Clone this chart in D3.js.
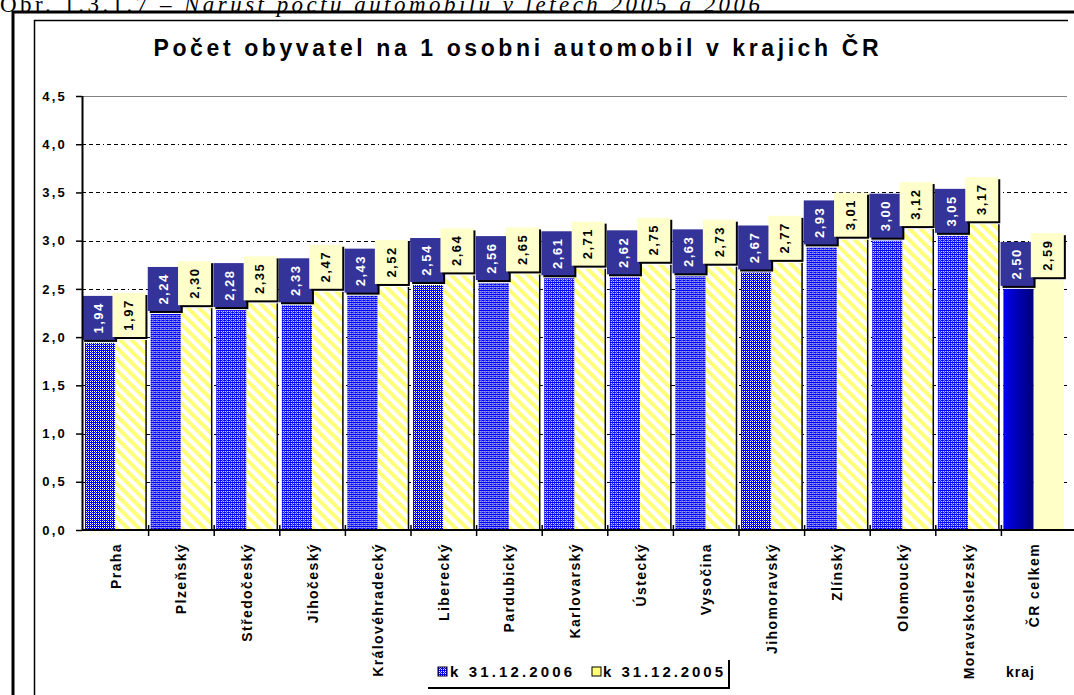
<!DOCTYPE html>
<html>
<head>
<meta charset="utf-8">
<script src="https://cdn.jsdelivr.net/npm/d3@7"></script>
<style>
  body { margin: 0; background: #fff; }
  svg { display: block; }
</style>
</head>
<body>
<svg id="graf" width="1074" height="695"></svg>
<script>
// ---- data ----
const kraje = ["Praha", "Plzeňský", "Středočeský", "Jihočeský", "Královéhradecký", "Liberecký",
  "Pardubický", "Karlovarský", "Ústecký", "Vysočina", "Jihomoravský", "Zlínský", "Olomoucký",
  "Moravskoslezský", "ČR celkem"];
const rok2006 = [1.94, 2.24, 2.28, 2.33, 2.43, 2.54, 2.56, 2.61, 2.62, 2.63, 2.67, 2.93, 3.00, 3.05, 2.50];
const rok2005 = [1.97, 2.30, 2.35, 2.47, 2.52, 2.64, 2.65, 2.71, 2.75, 2.73, 2.77, 3.01, 3.12, 3.17, 2.59];
const serie = ["k 31.12.2006", "k 31.12.2005"];
const yTicks = [0, 0.5, 1, 1.5, 2, 2.5, 3, 3.5, 4, 4.5];

const svg = d3.select("#graf");
const fnt = "'Liberation Sans', Arial, sans-serif";
const carka = f => v => d3.format(f)(v).replace(".", ",");

// ---- patterns ----
const defs = svg.append("defs");
const pb = defs.append("pattern").attr("id", "vzorModra")
  .attr("patternUnits", "userSpaceOnUse").attr("width", 4).attr("height", 4);
pb.append("rect").attr("width", 4).attr("height", 4).attr("fill", "#0000ff");
[[0, 0], [2, 2], [2, 0], [0, 2]].forEach(p => {
  pb.append("rect").attr("x", p[0] + 1).attr("y", p[1] + 1).attr("width", 1).attr("height", 1).attr("fill", "#fff");
});
pb.append("rect").attr("x", 0).attr("y", 0).attr("width", 1).attr("height", 1).attr("fill", "#9090ff");

const py = defs.append("pattern").attr("id", "vzorZluta")
  .attr("patternUnits", "userSpaceOnUse").attr("width", 8).attr("height", 8)
  .attr("patternTransform", "rotate(-45)");
py.append("rect").attr("width", 8).attr("height", 8).attr("fill", "#fff");
py.append("rect").attr("width", 4).attr("height", 8).attr("fill", "#ffff78");

const gr = defs.append("linearGradient").attr("id", "gradModra");
gr.append("stop").attr("offset", "0%").attr("stop-color", "#0000ee");
gr.append("stop").attr("offset", "100%").attr("stop-color", "#000078");

// ---- caption + frames ----
const titulek = svg.append("text").attr("x", 0).attr("y", 12)
  .attr("font-family", "'Liberation Serif', 'Times New Roman', serif").attr("font-size", 23)
  .attr("textLength", 760);
titulek.append("tspan").text("Obr. 1.3.1.7 – ");
titulek.append("tspan").attr("font-style", "italic").text("Nárůst počtu automobilů v letech 2005 a 2006");

svg.append("path").attr("d", "M13,695 V12 H1074").attr("fill", "none").attr("stroke", "#000").attr("stroke-width", 3);
svg.append("path").attr("d", "M34.5,695 V20.5 H1068").attr("fill", "none").attr("stroke", "#000").attr("stroke-width", 1.5);

svg.append("text").attr("x", 516).attr("y", 56).attr("text-anchor", "middle")
  .attr("font-family", fnt).attr("font-size", 23).attr("font-weight", "bold")
  .attr("textLength", 725)
  .text("Počet obyvatel na 1 osobni automobil v krajich ČR");

// ---- scales ----
const x0 = d3.scaleBand().domain(kraje).range([83, 1067]).padding(0);
const x1 = d3.scaleBand().domain(serie).range([2, x0.bandwidth() - 3]).padding(0);
const y = d3.scaleLinear().domain([0, 4.5]).range([530, 96]);

// gridlines
svg.append("g").selectAll("line").data(yTicks.filter(t => t > 0)).join("line")
  .attr("x1", 82).attr("x2", 1067)
  .attr("y1", d => Math.round(y(d)) + 0.5).attr("y2", d => Math.round(y(d)) + 0.5)
  .attr("stroke", d => d === 4.5 ? "#808080" : "#000")
  .attr("stroke-width", 1)
  .attr("stroke-dasharray", d => d === 4.5 ? null : "4,3,4,3,4,3,1,3");

// ---- bars ----
const data = kraje.map((k, i) => ({ kraj: k, hodnoty: [rok2006[i], rok2005[i]] }));
const skupiny = svg.append("g").selectAll("g").data(data).join("g")
  .attr("transform", d => "translate(" + x0(d.kraj) + ",0)");

skupiny.selectAll("rect.sloup").data((d, i) => d.hodnoty.map((v, j) => ({ v, s: serie[j], j, posl: i === kraje.length - 1 })))
  .join("rect").attr("class", "sloup")
  .attr("x", d => x1(d.s)).attr("width", x1.bandwidth())
  .attr("y", d => y(d.v)).attr("height", d => y(0) - y(d.v))
  .attr("fill", d => d.posl ? (d.j === 0 ? "url(#gradModra)" : "#ffffc8") : (d.j === 0 ? "url(#vzorModra)" : "url(#vzorZluta)"));

// dark right edges of yellow bars
skupiny.filter((d, i) => i < kraje.length - 1).append("line")
  .attr("x1", x1(serie[1]) + x1.bandwidth() + 0.5).attr("x2", x1(serie[1]) + x1.bandwidth() + 0.5)
  .attr("y1", d => y(d.hodnoty[1])).attr("y2", y(0))
  .attr("stroke", "#000").attr("stroke-width", 1.5);

// ---- axes ----
svg.append("line").attr("x1", 82.5).attr("x2", 82.5).attr("y1", 96).attr("y2", 531)
  .attr("stroke", "#000").attr("stroke-width", 2);
svg.append("line").attr("x1", 82).attr("x2", 1074).attr("y1", 530).attr("y2", 530)
  .attr("stroke", "#000").attr("stroke-width", 2);

const osaY = svg.append("g").attr("transform", "translate(82,0)")
  .call(d3.axisLeft(y).tickValues(yTicks).tickSize(6).tickSizeOuter(0).tickPadding(9).tickFormat(carka(".1f")));
osaY.select(".domain").remove();
osaY.selectAll("line").attr("stroke", "#000").attr("stroke-width", 1.5);
osaY.selectAll("text").attr("font-family", fnt).attr("font-size", 13).attr("font-weight", "bold")
  .attr("letter-spacing", 2.2).attr("fill", "#000");

// category ticks at band boundaries
svg.append("g").selectAll("line").data(kraje.slice(1)).join("line")
  .attr("x1", d => x0(d)).attr("x2", d => x0(d)).attr("y1", 525).attr("y2", 536)
  .attr("stroke", "#000").attr("stroke-width", 1.5);

svg.append("g").selectAll("text").data(kraje).join("text")
  .attr("transform", d => "translate(" + (x0(d) + x0.bandwidth() / 2 + 5) + ",543) rotate(-90)")
  .attr("text-anchor", "end")
  .attr("font-family", fnt).attr("font-size", 14).attr("font-weight", "bold").attr("letter-spacing", 1.4)
  .text(d => d);

// ---- data labels ----
const stitky = skupiny.selectAll("g.stitek").data(d => d.hodnoty.map((v, j) => ({ v, s: serie[j], j })))
  .join("g").attr("class", "stitek")
  .attr("transform", d => "translate(" + (x1(d.s) + x1.bandwidth() / 2 - 2) + "," + (y(d.v) - 25) + ")");
stitky.append("rect").attr("x", -14).attr("y", -20).attr("width", 33).attr("height", 44).attr("fill", "#000");
stitky.append("rect").attr("x", -16).attr("y", -22).attr("width", 33).attr("height", 44)
  .attr("fill", d => d.j === 0 ? "#333399" : "#ffffcc");
stitky.append("text").attr("transform", "rotate(-90)").attr("text-anchor", "middle").attr("dy", "0.36em")
  .attr("font-family", fnt).attr("font-size", 13).attr("font-weight", "bold").attr("letter-spacing", 1.5)
  .attr("fill", d => d.j === 0 ? "#fff" : "#000")
  .text(d => carka(".2f")(d.v));

// ---- legend ----
const leg = svg.append("g");
leg.append("path").attr("d", "M428,688 H729 V660").attr("fill", "none").attr("stroke", "#000").attr("stroke-width", 2);
leg.append("rect").attr("x", 438).attr("y", 667).attr("width", 9).attr("height", 9).attr("fill", "url(#vzorModra)").attr("stroke", "#000");
leg.append("rect").attr("x", 592).attr("y", 667).attr("width", 9).attr("height", 9).attr("fill", "#ffff78").attr("stroke", "#000");
leg.append("text").attr("x", 450).attr("y", 677).attr("font-family", fnt).attr("font-size", 15).attr("font-weight", "bold")
  .attr("textLength", 122).text(serie[0]);
leg.append("text").attr("x", 603).attr("y", 677).attr("font-family", fnt).attr("font-size", 15).attr("font-weight", "bold")
  .attr("textLength", 120).text(serie[1]);

svg.append("text").attr("x", 1006).attr("y", 677).attr("font-family", fnt).attr("font-size", 14).attr("font-weight", "bold")
  .attr("letter-spacing", 1).text("kraj");
</script>
</body>
</html>
